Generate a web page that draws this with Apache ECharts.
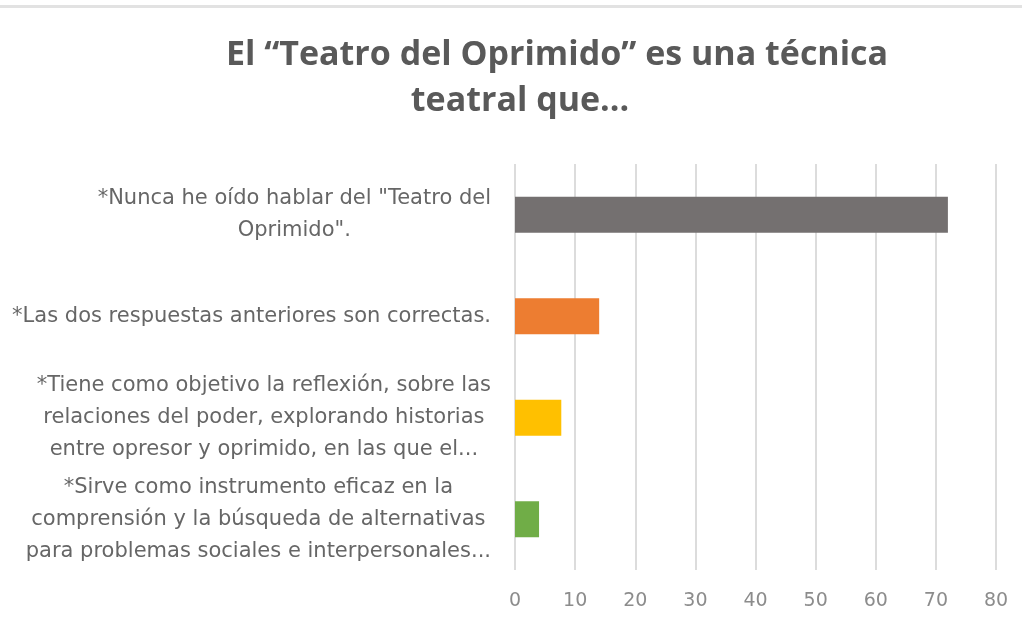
<!DOCTYPE html>
<html>
<head>
<meta charset="utf-8">
<script src="https://cdn.jsdelivr.net/npm/echarts@6/dist/echarts.min.js"></script>
<style>
  html, body { margin: 0; padding: 0; background: #ffffff; }
  #chart { width: 1022px; height: 632px; }
</style>
</head>
<body>
<div id="chart"></div>
<script>
// Answer options, listed top to bottom as they appear on the chart
const categories = [
  ['*Nunca he oído hablar del "Teatro del', 'Oprimido".'],
  ['*Las dos respuestas anteriores son correctas.'],
  ['*Tiene como objetivo la reflexión, sobre las', 'relaciones del poder, explorando historias', 'entre opresor y oprimido, en las que el...'],
  ['*Sirve como instrumento eficaz en la', 'comprensión y la búsqueda de alternativas', 'para problemas sociales e interpersonales...']
];
const values = [72, 14, 7.7, 4];
const barColors = ['#747070', '#ED7D31', '#FFC000', '#70AD47'];
const xTicks = [0, 10, 20, 30, 40, 50, 60, 70, 80];

const titleLines = ['El “Teatro del Oprimido” es una técnica', 'teatral que...'];

const chart = echarts.init(document.getElementById('chart'), null, { renderer: 'canvas' });

chart.setOption({
  backgroundColor: '#ffffff',
  animation: false,
  title: [
    {
      text: titleLines[0],
      left: 552, top: 33,
      textAlign: 'center',
      textStyle: { fontFamily: 'Open Sans', fontWeight: 'bold', fontSize: 34, color: '#595959' }
    },
    {
      text: titleLines[1],
      left: 515, top: 79,
      textAlign: 'center',
      textStyle: { fontFamily: 'Open Sans', fontWeight: 'bold', fontSize: 34, color: '#595959' }
    }
  ],
  graphic: [
    {
      type: 'rect',
      shape: { x: 0, y: 5, width: 1022, height: 3 },
      style: { fill: '#e2e2e2' },
      silent: true
    }
  ],
  grid: { left: 515, right: 26, top: 164, bottom: 62, containLabel: false },
  xAxis: {
    type: 'value',
    min: 0, max: 80, interval: 10,
    axisLine: { show: false },
    axisTick: { show: false },
    splitLine: { show: true, lineStyle: { color: '#dcdcdc', width: 2 } },
    axisLabel: {
      margin: 22,
      color: '#8c8c8c',
      fontFamily: 'DejaVu Sans',
      fontSize: 19,
      formatter: v => xTicks.includes(v) ? String(v) : ''
    }
  },
  yAxis: {
    type: 'category',
    inverse: true,
    data: categories.map(lines => lines.join('\n')),
    axisLine: { show: false },
    axisTick: { show: false },
    axisLabel: {
      margin: 24,
      color: '#666666',
      fontFamily: 'DejaVu Sans',
      fontSize: 21,
      lineHeight: 32,
      formatter: txt => txt.split('\n').map(l => '{c|' + l + '}').join('\n'),
      rich: {
        c: { align: 'center', color: '#666666', fontFamily: 'DejaVu Sans', fontSize: 21, lineHeight: 32 }
      }
    }
  },
  series: [
    {
      type: 'bar',
      barWidth: 36,
      data: values.map((v, i) => ({ value: v, itemStyle: { color: barColors[i] } }))
    }
  ]
});
</script>
</body>
</html>
